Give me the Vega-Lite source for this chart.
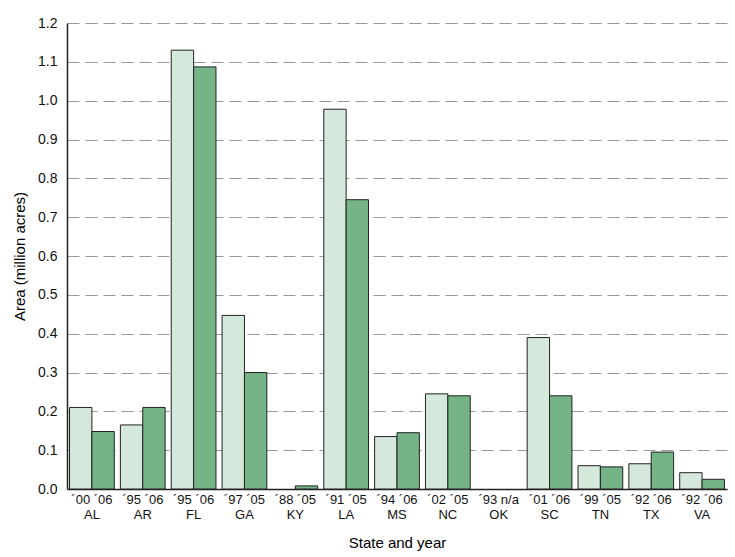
{
  "$schema": "https://vega.github.io/schema/vega-lite/v6.json",
  "width": 660,
  "height": 466,
  "padding": {"left": 12, "top": 16, "right": 2, "bottom": 5},
  "data": {"values": [
    {"state": "´00 ´06|AL", "period": "first", "area": 0.21},
    {"state": "´00 ´06|AL", "period": "second", "area": 0.148},
    {"state": "´95 ´06|AR", "period": "first", "area": 0.165},
    {"state": "´95 ´06|AR", "period": "second", "area": 0.21},
    {"state": "´95 ´06|FL", "period": "first", "area": 1.13},
    {"state": "´95 ´06|FL", "period": "second", "area": 1.087},
    {"state": "´97 ´05|GA", "period": "first", "area": 0.447},
    {"state": "´97 ´05|GA", "period": "second", "area": 0.3},
    {"state": "´88 ´05|KY", "period": "first", "area": 0},
    {"state": "´88 ´05|KY", "period": "second", "area": 0.008},
    {"state": "´91 ´05|LA", "period": "first", "area": 0.978},
    {"state": "´91 ´05|LA", "period": "second", "area": 0.745},
    {"state": "´94 ´06|MS", "period": "first", "area": 0.135},
    {"state": "´94 ´06|MS", "period": "second", "area": 0.145},
    {"state": "´02 ´05|NC", "period": "first", "area": 0.245},
    {"state": "´02 ´05|NC", "period": "second", "area": 0.24},
    {"state": "´93 n/a|OK", "period": "first", "area": 0},
    {"state": "´93 n/a|OK", "period": "second", "area": 0},
    {"state": "´01 ´06|SC", "period": "first", "area": 0.39},
    {"state": "´01 ´06|SC", "period": "second", "area": 0.24},
    {"state": "´99 ´05|TN", "period": "first", "area": 0.06},
    {"state": "´99 ´05|TN", "period": "second", "area": 0.057},
    {"state": "´92 ´06|TX", "period": "first", "area": 0.065},
    {"state": "´92 ´06|TX", "period": "second", "area": 0.095},
    {"state": "´92 ´06|VA", "period": "first", "area": 0.042},
    {"state": "´92 ´06|VA", "period": "second", "area": 0.025}
  ]},
  "config": {
    "view": {"stroke": null},
    "font": "Liberation Sans"
  },
  "mark": {"type": "bar", "stroke": "#222", "strokeWidth": 1},
  "encoding": {
    "x": {
      "field": "state", "type": "nominal", "sort": null,
      "scale": {"paddingInner": 0.12, "paddingOuter": 0.05},
      "axis": {
        "title": "State and year", "titleFontSize": 15, "titleFontWeight": "normal", "titlePadding": 14,
        "labelAngle": 0, "labelFontSize": 13, "labelExpr": "split(datum.label, '|')",
        "labelLineHeight": 15, "labelPadding": 4, "ticks": false, "domainColor": "#222", "domainWidth": 1.5, "labelColor": "#111"
      }
    },
    "xOffset": {"field": "period", "type": "nominal", "sort": ["first", "second"]},
    "y": {
      "field": "area", "type": "quantitative",
      "scale": {"domain": [0, 1.2]},
      "axis": {
        "title": "Area (million acres)", "titleFontSize": 15, "titleFontWeight": "normal", "titlePadding": 10,
        "values": [0, 0.1, 0.2, 0.3, 0.4, 0.5, 0.6, 0.7, 0.8, 0.9, 1.0, 1.1, 1.2],
        "format": ".1f", "labelFontSize": 14, "labelColor": "#111", "ticks": false, "labelPadding": 10,
        "gridDash": [12, 6], "gridColor": "#999", "gridWidth": 1.2, "domainColor": "#222", "domainWidth": 1.5
      }
    },
    "strokeOpacity": {"condition": {"test": "datum.area > 0", "value": 1}, "value": 0},
    "color": {
      "field": "period", "type": "nominal",
      "scale": {"domain": ["first", "second"], "range": ["#d5e8dc", "#74b487"]},
      "legend": null
    }
  }
}
